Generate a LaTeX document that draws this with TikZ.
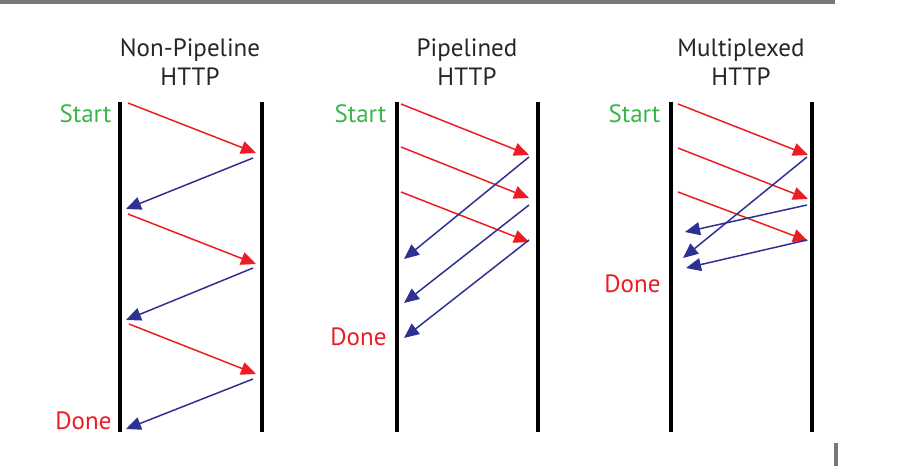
\documentclass[tikz,border=0pt]{standalone}
\usepackage{fontspec}
\setmainfont{PT Sans}
\usetikzlibrary{arrows.meta}
\definecolor{reqred}{HTML}{ED1C24}
\definecolor{resblue}{HTML}{2E3192}
\definecolor{startgreen}{HTML}{39B54A}
\definecolor{framegray}{HTML}{777777}
\begin{document}
\begin{tikzpicture}[x=1pt,y=-1pt,
  lane/.style={line width=3.5pt, black},
  req/.style={draw=reqred, line width=1.5pt, -{Triangle[length=15pt,width=13pt]}},
  res/.style={draw=resblue, line width=1.5pt, -{Triangle[length=15pt,width=13pt]}},
  title/.style={font=\fontsize{25}{29}\selectfont, text=black!85, align=center},
  startlbl/.style={font=\fontsize{25}{29}\selectfont, text=startgreen, anchor=east},
  donelbl/.style={font=\fontsize{25}{29}\selectfont, text=reqred, anchor=east}]
\useasboundingbox (0,0) rectangle (905,466);
% frame marks
\fill[framegray] (0,0) rectangle (835,3.5);
\fill[framegray] (834,443) rectangle (838,466);

% ---------- Non-pipelined ----------
\node[title] (t1) at (190,62) {Non-Pipeline\\HTTP};
\draw[lane] (120,102) -- (120,432);
\draw[lane] (262,102) -- (262,432);
\node[startlbl] (s1) at (115,114) {Start};
\node[donelbl] (d1) at (115,421) {Done};
\coordinate (a1) at (128,103); \coordinate (a2) at (256,153);
\coordinate (a3) at (253,158); \coordinate (a4) at (126,209);
\coordinate (a5) at (128,214); \coordinate (a6) at (256,264);
\coordinate (a7) at (253,268); \coordinate (a8) at (126,320);
\coordinate (a9) at (129,324); \coordinate (a10) at (256,374);
\coordinate (a11) at (253,379); \coordinate (a12) at (126,429);
\draw[req] (a1) -- (a2);
\draw[res] (a3) -- (a4);
\draw[req] (a5) -- (a6);
\draw[res] (a7) -- (a8);
\draw[req] (a9) -- (a10);
\draw[res] (a11) -- (a12);

% ---------- Pipelined ----------
\node[title] (t2) at (467,62) {Pipelined\\HTTP};
\draw[lane] (397,102) -- (397,432);
\draw[lane] (538,102) -- (538,432);
\node[startlbl] (s2) at (390,114) {Start};
\node[donelbl] (d2) at (390,337) {Done};
\coordinate (b1) at (401,104); \coordinate (b2) at (529,155);
\coordinate (b3) at (401,147); \coordinate (b4) at (529,198);
\coordinate (b5) at (401,192); \coordinate (b6) at (529,242);
\coordinate (b7) at (529,157); \coordinate (b8) at (404,259);
\coordinate (b9) at (529,205); \coordinate (b10) at (404,303);
\coordinate (b11) at (529,240); \coordinate (b12) at (404,338);
\draw[req] (b1) -- (b2);
\draw[req] (b3) -- (b4);
\draw[req] (b5) -- (b6);
\draw[res] (b7) -- (b8);
\draw[res] (b9) -- (b10);
\draw[res] (b11) -- (b12);

% ---------- Multiplexed ----------
\node[title] (t3) at (741,62) {Multiplexed\\HTTP};
\draw[lane] (671,102) -- (671,432);
\draw[lane] (812,102) -- (812,432);
\node[startlbl] (s3) at (664,114) {Start};
\node[donelbl] (d3) at (664,284) {Done};
\coordinate (c1) at (678,104); \coordinate (c2) at (808,155);
\coordinate (c3) at (678,148); \coordinate (c4) at (808,199);
\coordinate (c5) at (678,192); \coordinate (c6) at (808,241);
\coordinate (c7) at (807,157); \coordinate (c8) at (683,258);
\coordinate (c9) at (807,205); \coordinate (c10) at (685,232);
\coordinate (c11) at (807,240); \coordinate (c12) at (686,268);
\draw[req] (c1) -- (c2);
\draw[req] (c3) -- (c4);
\draw[req] (c5) -- (c6);
\draw[res] (c7) -- (c8);
\draw[res] (c9) -- (c10);
\draw[res] (c11) -- (c12);
\end{tikzpicture}
\end{document}
